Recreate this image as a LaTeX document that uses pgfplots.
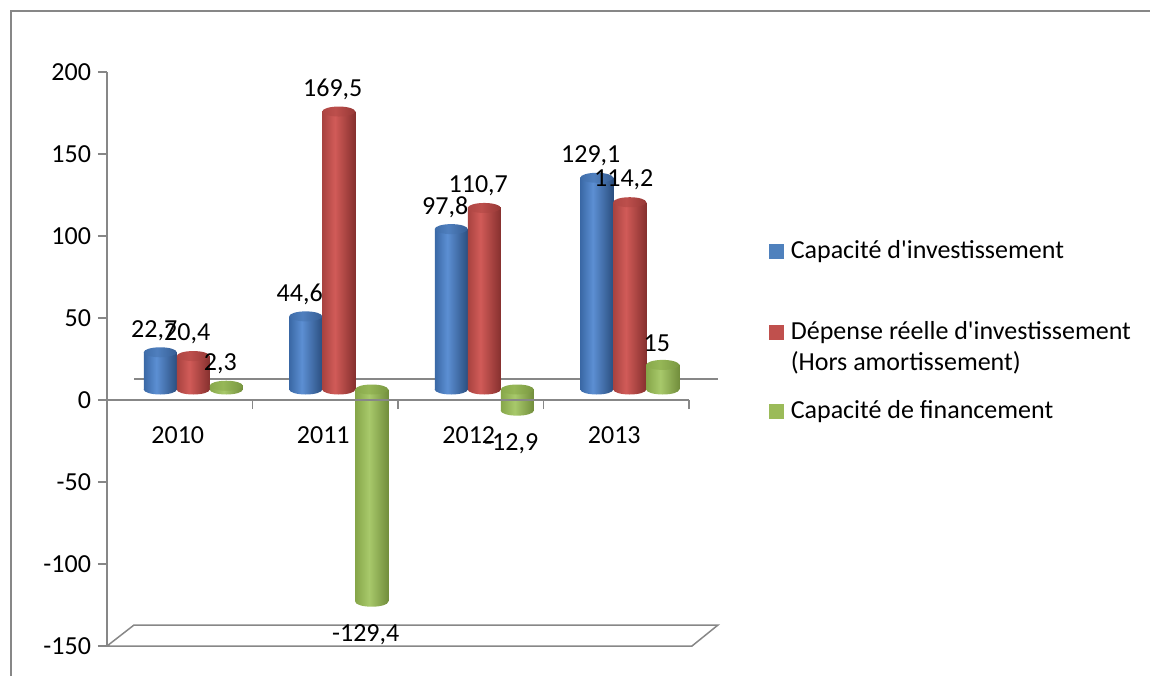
\documentclass[border=0pt]{standalone}
\usepackage{fontspec}
\setmainfont{Carlito}[Ligatures=TeXOff]
\usepackage{pgfplots}
\usepackage{pgfplotstable}
\pgfplotsset{compat=1.18}

\definecolor{axgray}{HTML}{878787}
\definecolor{cblue}{HTML}{4F81BD}
\definecolor{cred}{HTML}{C0504D}
\definecolor{cgreen}{HTML}{9BBB59}
% body colours (left, highlight, right) and top colours
\definecolor{bL}{HTML}{3A68A5}\definecolor{bM}{HTML}{5C8FD3}\definecolor{bR}{HTML}{2B4F80}
\definecolor{btL}{HTML}{3F6DA9}\definecolor{btM}{HTML}{4F7FBE}\definecolor{btR}{HTML}{365E94}
\definecolor{rL}{HTML}{A84340}\definecolor{rM}{HTML}{D15B58}\definecolor{rR}{HTML}{86302E}
\definecolor{rtL}{HTML}{AE4643}\definecolor{rtM}{HTML}{BD4F4C}\definecolor{rtR}{HTML}{953836}
\definecolor{gL}{HTML}{86A649}\definecolor{gM}{HTML}{A8C96B}\definecolor{gR}{HTML}{728E3C}
\definecolor{gtL}{HTML}{88A84B}\definecolor{gtM}{HTML}{96B757}\definecolor{gtR}{HTML}{7A9842}

\pgfdeclarehorizontalshading{cylb}{100bp}{color(0bp)=(bL); color(25bp)=(bL); color(44bp)=(bM); color(75bp)=(bR); color(100bp)=(bR)}
\pgfdeclarehorizontalshading{cylr}{100bp}{color(0bp)=(rL); color(25bp)=(rL); color(44bp)=(rM); color(75bp)=(rR); color(100bp)=(rR)}
\pgfdeclarehorizontalshading{cylg}{100bp}{color(0bp)=(gL); color(25bp)=(gL); color(46bp)=(gM); color(75bp)=(gR); color(100bp)=(gR)}
\pgfdeclarehorizontalshading{topb}{100bp}{color(0bp)=(btL); color(25bp)=(btL); color(45bp)=(btM); color(75bp)=(btR); color(100bp)=(btR)}
\pgfdeclarehorizontalshading{topr}{100bp}{color(0bp)=(rtL); color(25bp)=(rtL); color(45bp)=(rtM); color(75bp)=(rtR); color(100bp)=(rtR)}
\pgfdeclarehorizontalshading{topg}{100bp}{color(0bp)=(gtL); color(25bp)=(gtL); color(45bp)=(gtM); color(75bp)=(gtR); color(100bp)=(gtR)}

\newcommand\ellmark[1]{\pgfpathellipse{\pgfpointorigin}{\pgfqpoint{8.25pt}{0pt}}{\pgfqpoint{0pt}{2.5pt}}\pgfshadepath{#1}{0}\pgfusepath{discard}}
\pgfdeclareplotmark{botb}{\ellmark{cylb}}
\pgfdeclareplotmark{botr}{\ellmark{cylr}}
\pgfdeclareplotmark{botg}{\ellmark{cylg}}
\pgfdeclareplotmark{topb}{\ellmark{topb}}
\pgfdeclareplotmark{topr}{\ellmark{topr}}
\pgfdeclareplotmark{topg}{\ellmark{topg}}

\newcommand\lblfont{\fontsize{13}{15.6}\selectfont}

\pgfplotstableread{
x y lab
0 22.7 22,7
1 44.6 44,6
2 97.8 97,8
3 129.1 129,1
}\capinv
\pgfplotstableread{
x y lab
0 20.4 20,4
1 169.5 169,5
2 110.7 110,7
3 114.2 114,2
}\depinv
\pgfplotstableread{
x y lab
0 2.3 2,3
1 -129.4 -129,4
2 -12.9 -12,9
3 15 15
}\capfin

% one cylinder body per category, so that each bar gets its own shading
\newcommand\cylbody[4]{% #1 table, #2 x offset, #3 domain, #4 shading
 \addplot[ybar, bar width=16.5pt, bar shift=0pt, draw=none, shade, shading=#4, shading angle=0,
   forget plot, restrict x to domain=#3]
   table[x expr=\thisrow{x}+0.5+(#2), y=y] {#1};
}
% #1 table, #2 x offset, #3 body shading, #4 bottom mark, #5 top mark
\newcommand\cyl[5]{%
 \addplot[only marks, mark=#4, forget plot]
   table[x expr=\thisrow{x}+0.5+(#2), y expr={min(\thisrow{y},0)}] {#1};
 \cylbody{#1}{#2}{0:1}{#3}
 \cylbody{#1}{#2}{1:2}{#3}
 \cylbody{#1}{#2}{2:3}{#3}
 \cylbody{#1}{#2}{3:4}{#3}
 \addplot[only marks, mark=#5, forget plot]
   table[x expr=\thisrow{x}+0.5+(#2), y expr={max(\thisrow{y},0)}] {#1};
}
\newcommand\lbl[2]{%
 \addplot[draw=none, no markers, forget plot, point meta=explicit symbolic,
   nodes near coords, visualization depends on={\thisrow{y}\as\yv},
   every node near coord/.append style={anchor=center, inner sep=0pt, font=\lblfont, text=black,
     xshift=-3pt, yshift={((\yv>0)*27.5-16.5)*1pt}}]
   table[x expr=\thisrow{x}+0.5+(#2), y=y, meta=lab] {#1};
}

\begin{document}
\begin{tikzpicture}[font=\lblfont]
\useasboundingbox (0,0) rectangle (575pt,338pt);
\draw[axgray, line width=0.75pt] (5.5pt,0pt) -- (5.5pt,332.5pt) -- (575pt,332.5pt);

% bars (mid depth plane)
\begin{axis}[
  at={(60.25pt,20.25pt)}, anchor=south west, scale only axis,
  width=291pt, height=287pt,
  xmin=0, xmax=4, ymin=-150, ymax=200,
  hide axis, clip=false,
  legend style={at={(axis description cs:1.1143,0.689)}, anchor=north west,
    draw=none, fill=none, inner sep=0pt, outer sep=0pt,
    column sep=3.5pt, row sep=0pt, font=\lblfont,
    cells={anchor=base west},
    nodes={inner sep=0pt, text height=9pt, text depth={}}},
]
% floor and back wall zero line
\draw[axgray, line width=0.75pt]
  ([shift={(-6.75pt,-5.25pt)}]axis cs:0,-150) -- ([shift={(-5.25pt,-5.25pt)}]axis cs:4,-150)
  -- ([shift={(7.75pt,5.25pt)}]axis cs:4,-150) -- ([shift={(6.75pt,5.25pt)}]axis cs:0,-150) -- cycle;
\draw[axgray, line width=0.75pt]
  ([shift={(6.75pt,5.25pt)}]axis cs:0,0) -- ([shift={(7.75pt,5.25pt)}]axis cs:4,0);

\cyl{\capinv}{-0.2268}{cylb}{botb}{topb}
\cyl{\depinv}{0}{cylr}{botr}{topr}
\cyl{\capfin}{0.2268}{cylg}{botg}{topg}
\lbl{\capinv}{-0.2268}
\lbl{\depinv}{0}
\lbl{\capfin}{0.2268}

\addlegendimage{legend image code/.code={\fill[cblue] (0pt,0pt) rectangle (7pt,7pt);}}
\addlegendentry{Capacité d'investissement\rule[-31.5pt]{0pt}{0pt}}
\addlegendimage{legend image code/.code={\fill[cred] (0pt,0pt) rectangle (7pt,7pt);}}
\addlegendentry{Dépense réelle d'investissement\rule[-6.5pt]{0pt}{0pt}}
\addlegendimage{empty legend}
\addlegendentry{(Hors amortissement)\rule[-15pt]{0pt}{0pt}}
\addlegendimage{legend image code/.code={\fill[cgreen] (0pt,0pt) rectangle (7pt,7pt);}}
\addlegendentry{Capacité de financement}
\end{axis}

% front axis
\begin{axis}[
  at={(53.5pt,15pt)}, anchor=south west, scale only axis,
  width=291pt, height=287pt,
  xmin=0, xmax=4, ymin=-150, ymax=200,
  axis x line=middle, axis y line=left,
  axis line style={-, axgray, line width=0.75pt},
  hide obscured x ticks=false, hide obscured y ticks=false,
  ytick={-150,-100,...,200},
  ytick align=outside, xtick align=outside,
  major tick length=4.5pt,
  tick style={axgray, line width=0.75pt},
  xtick={1,2,3,4}, xticklabels={,,,},
  extra x ticks={0.5,1.5,2.5,3.5}, extra x tick labels={2010,2011,2012,2013},
  extra x tick style={major tick length=0pt, tick label style={yshift=-10pt, xshift=-1pt}},
  /pgf/number format/assume math mode=true,
  tick label style={font=\lblfont, text=black},
  clip=false,
]
\end{axis}
\end{tikzpicture}
\end{document}
